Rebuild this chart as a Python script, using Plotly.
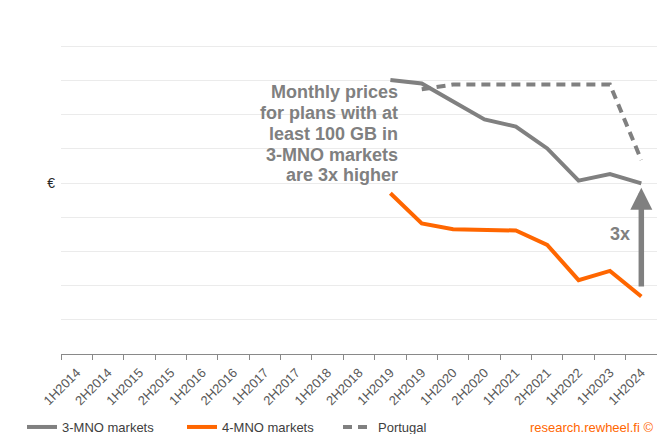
import plotly.graph_objects as go

categories = ["1H2014", "2H2014", "1H2015", "2H2015", "1H2016", "2H2016",
              "1H2017", "2H2017", "1H2018", "2H2018", "1H2019", "2H2019",
              "1H2020", "2H2020", "1H2021", "2H2021", "1H2022", "1H2023", "1H2024"]

mno3 = [None] * 10 + [8.01, 7.91, 7.38, 6.86, 6.65, 6.01, 5.07, 5.26, 4.99]
mno4 = [None] * 10 + [4.70, 3.82, 3.65, 3.63, 3.61, 3.19, 2.16, 2.43, 1.68]
portugal = [None] * 11 + [7.74, 7.88, 7.88, 7.88, 7.88, 7.88, 7.88, 5.67]

y_ticks = list(range(0, 11))
y_ticktext = ["" if v != 5 else "€" for v in y_ticks]

note_lines = ["Monthly prices", "for plans with at", "least 100 GB in",
              "3-MNO markets", "are 3x higher"]
note_y = [7.66, 7.05, 6.43, 5.82, 5.23]

GRAY = "#808080"
ORANGE = "#FF6600"
FONT = "Liberation Sans, Arial, sans-serif"

fig = go.Figure()
fig.add_trace(go.Scatter(x=categories, y=mno3, name="3-MNO markets", mode="lines",
                         line=dict(color=GRAY, width=4), legend="legend"))
fig.add_trace(go.Scatter(x=categories, y=mno4, name="4-MNO markets", mode="lines",
                         line=dict(color=ORANGE, width=4), legend="legend2"))
fig.add_trace(go.Scatter(x=categories, y=portugal, name="Portugal", mode="lines",
                         line=dict(color=GRAY, width=4, dash="9px,6px"), legend="legend3"))

# Annotation text, one line per annotation for tight leading
for txt, yv in zip(note_lines, note_y):
    fig.add_annotation(x=categories[10], y=yv, xref="x", yref="y", text=txt,
                       showarrow=False, xanchor="right", yanchor="middle", align="right",
                       xshift=10,
                       font=dict(family=FONT, size=18, color=GRAY, weight="bold"))

# 3x arrow
fig.add_annotation(x=categories[-1], y=mno3[-1] - 0.13, ax=categories[-1], ay=mno4[-1] + 0.25,
                   xref="x", yref="y", axref="x", ayref="y", text="",
                   showarrow=True, arrowhead=2, arrowsize=0.8, arrowwidth=5.5, arrowcolor=GRAY)
fig.add_annotation(x=categories[-1], y=3.51, xref="x", yref="y", text="3x", showarrow=False,
                   xanchor="right", xshift=-9,
                   font=dict(family=FONT, size=18, color=GRAY, weight="bold"))

fig.add_annotation(x=1, y=-0.2135, xref="paper", yref="paper", text="research.rewheel.fi ©",
                   showarrow=False, xanchor="right", yanchor="middle", xshift=-2,
                   font=dict(family=FONT, size=13, color=ORANGE))

leg_common = dict(orientation="h", y=-0.2135, xanchor="left", yanchor="middle",
                  font=dict(family=FONT, size=13, color="#404040"), bgcolor="rgba(0,0,0,0)")
leg_x0 = (22 - 61) / 596

fig.update_layout(
    width=657, height=434,
    margin=dict(l=61, r=0, t=12, b=80, autoexpand=False),
    paper_bgcolor="white", plot_bgcolor="white",
    font=dict(family=FONT, size=12, color="#404040"),
    showlegend=True,
    legend=dict(x=leg_x0, **leg_common),
    legend2=dict(x=leg_x0 + 160 / 596, **leg_common),
    legend3=dict(x=leg_x0 + 316 / 596, **leg_common),
    xaxis=dict(type="category", categoryorder="array", categoryarray=categories,
               range=[-0.5, len(categories) - 0.5], tickangle=-45, automargin=False,
               showline=True, linecolor="#898989", linewidth=1,
               ticks="outside", ticklen=5, tickcolor="#898989", tickson="boundaries",
               showgrid=False, tickfont=dict(family=FONT, size=13, color="#595959"),
               ticklabelstandoff=5),
    yaxis=dict(range=[0, 10], tickvals=y_ticks, ticktext=y_ticktext, automargin=False,
               showgrid=True, gridcolor="#EBEBEB", gridwidth=1, zeroline=False,
               showline=False, ticks="", tickfont=dict(family=FONT, size=14, color="#262626"),
               ticklabelstandoff=5),
)

fig.write_html("out.html", config={"displayModeBar": False},
               post_script="document.body.style.margin='0';")
